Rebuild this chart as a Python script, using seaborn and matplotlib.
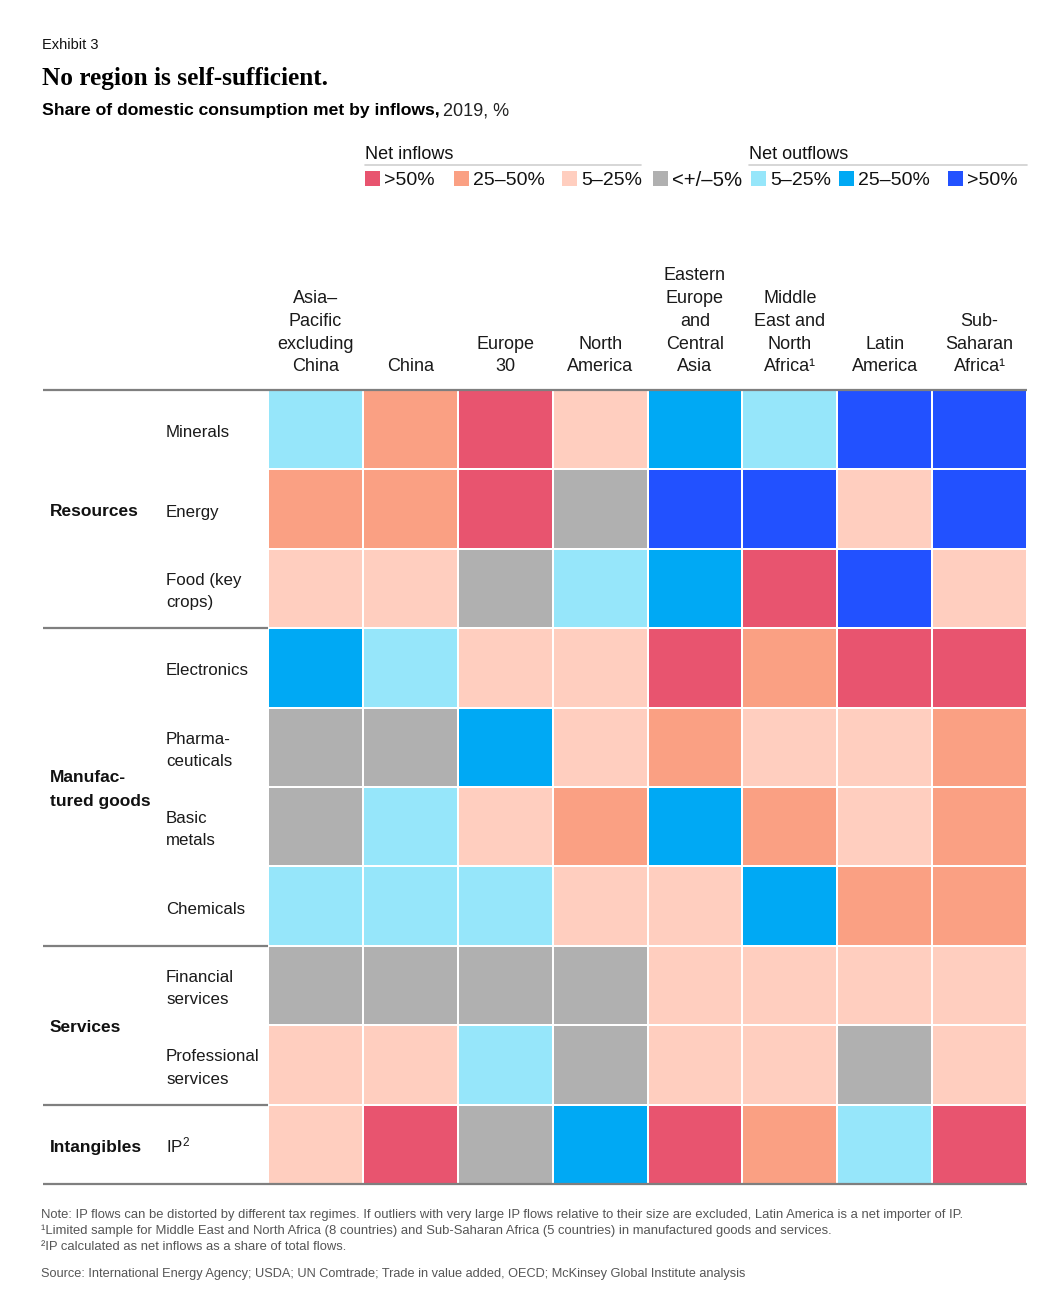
import numpy as np
import pandas as pd
import matplotlib
matplotlib.use("Agg")
import matplotlib.pyplot as plt
from matplotlib.colors import ListedColormap, BoundaryNorm
from matplotlib.patches import Rectangle
from matplotlib.lines import Line2D
from matplotlib.transforms import ScaledTranslation
import seaborn as sns

W, H = 1057, 1312
regions = ["Asia–\nPacific\nexcluding\nChina", "China", "Europe\n30", "North\nAmerica",
           "Eastern\nEurope\nand\nCentral\nAsia", "Middle\nEast and\nNorth\nAfrica¹", "Latin\nAmerica",
           "Sub-\nSaharan\nAfrica¹"]
sectors = ["Minerals", "Energy", "Food (key\ncrops)", "Electronics", "Pharma-\nceuticals", "Basic\nmetals",
           "Chemicals", "Financial\nservices", "Professional\nservices", "IP$\\mathregular{^2}$"]
groups = ["Resources", "Manufac-\ntured goods", "Services", "Intangibles"]
group_sizes = [3, 4, 2, 1]

# positive = net inflow band, negative = net outflow band
minerals = [-1, 2, 3, 1, -2, -1, -3, -3]
energy = [2, 2, 3, 0, -3, -3, 1, -3]
food = [1, 1, 0, -1, -2, 3, -3, 1]
electronics = [-2, -1, 1, 1, 3, 2, 3, 3]
pharma = [0, 0, -2, 1, 2, 1, 1, 2]
basic_metals = [0, -1, 1, 2, -2, 2, 1, 2]
chemicals = [-1, -1, -1, 1, 1, -2, 2, 2]
financial = [0, 0, 0, 0, 1, 1, 1, 1]
professional = [1, 1, -1, 0, 1, 1, 0, 1]
ip = [1, 3, 0, -2, 3, 2, -1, 3]

band_values = [-3, -2, -1, 0, 1, 2, 3]
band_colors = ["#2251FF", "#00A9F4", "#96E6FA", "#B0B0B0", "#FFCEBF", "#FAA083", "#E8546F"]
legend_labels = [">50%", "25–50%", "5–25%", "<+/–5%", "5–25%", "25–50%", ">50%"]
legend_bands = [3, 2, 1, 0, -1, -2, -3]

SANS = "Liberation Sans"
sns.set_theme(style="white")
plt.rcParams["font.family"] = [SANS, "DejaVu Sans"]

fig = plt.figure(figsize=(W / 100, H / 100), dpi=100, facecolor="white")


def fx(x):
    return x / W


def fy(y):
    return 1 - y / H


def ftext(x, y, s, size=12.2, color="#111111", **kw):
    kw.setdefault("va", "center")
    return fig.text(fx(x), fy(y), s, fontsize=size, color=color, **kw)


GX0, GX1, GY0, GY1 = 268, 1027, 390, 1184
ax = fig.add_axes([fx(GX0), fy(GY1), (GX1 - GX0) / W, (GY1 - GY0) / H])
matrix = pd.DataFrame([minerals, energy, food, electronics, pharma, basic_metals, chemicals,
                       financial, professional, ip], index=sectors, columns=regions)
cmap = ListedColormap(band_colors)
norm = BoundaryNorm(np.arange(-3.5, 4.5), cmap.N)
sns.heatmap(matrix, ax=ax, cmap=cmap, norm=norm, cbar=False, linewidths=1.4, linecolor="white",
            xticklabels=True, yticklabels=True)

ax.xaxis.tick_top()
ax.tick_params(axis="x", length=0, pad=10.5, labelsize=13, labelcolor="#1a1a1a")
ax.tick_params(axis="y", length=0, pad=73.4, labelsize=12.2, labelcolor="#1a1a1a")
plt.setp(ax.get_xticklabels(), rotation=0, ha="center", va="bottom", linespacing=1.45)
plt.setp(ax.get_yticklabels(), rotation=0, ha="left", va="center", linespacing=1.62)
for lab in ax.get_yticklabels():
    drop = 1 if lab.get_text().startswith("IP") else 3
    lab.set_transform(lab.get_transform() + ScaledTranslation(0, -drop / 100, fig.dpi_scale_trans))
ax.set_xlabel("")
ax.set_ylabel("")

# rules between groups, drawn in data coordinates of the heatmap
cell_w = (GX1 - GX0) / len(regions)
left = (43 - GX0) / cell_w
edges = np.concatenate([[0], np.cumsum(group_sizes)])
for e in edges:
    right = len(regions) if e in (0, edges[-1]) else 0
    ax.add_line(Line2D([left, right], [e, e], color="#7f7f7f", lw=1.6, clip_on=False, zorder=5,
                       solid_capstyle="butt"))
for g, a, b in zip(groups, edges[:-1], edges[1:]):
    ax.text(left + 7 / cell_w, (a + b) / 2 + 0.035, g, fontweight="bold", fontsize=12.5, color="#111111",
            ha="left", va="center", linespacing=1.72)

# header
ftext(41.5, 45, "Exhibit 3", size=10.5)
ftext(41.5, 78, "No region is self-sufficient.", size=18.2, family="Liberation Serif",
      fontweight="bold", color="black")
ftext(41.5, 111, "Share of domestic consumption met by inflows,", size=12.6, fontweight="bold", color="black")
ftext(443, 111.5, "2019, %", size=13, color="#222222")

# legend
ftext(365, 154.5, "Net inflows", size=13)
ftext(749, 154.5, "Net outflows", size=13)
fig.add_artist(Line2D([fx(365), fx(641)], [fy(165), fy(165)], color="#d0d0d0", lw=1.2))
fig.add_artist(Line2D([fx(749), fx(1027)], [fy(165), fy(165)], color="#d0d0d0", lw=1.2))
swatch_x = [365, 454, 562, 653, 751, 839, 948]
label_sizes = [14, 14, 14, 14.6, 14, 14, 14]
for x, lab, band, sz in zip(swatch_x, legend_labels, legend_bands, label_sizes):
    fig.add_artist(Rectangle((fx(x), fy(186)), 15 / W, 15 / H, transform=fig.transFigure,
                             facecolor=band_colors[band_values.index(band)], edgecolor="none"))
    ftext(x + 19, 180.5, lab, size=sz)

# notes
note_c = "#555555"
ftext(41, 1215, "Note: IP flows can be distorted by different tax regimes. If outliers with very large IP flows "
      "relative to their size are excluded, Latin America is a net importer of IP.", size=9.38, color=note_c)
ftext(41, 1231, "¹Limited sample for Middle East and North Africa (8 countries) and Sub-Saharan Africa (5 countries) "
      "in manufactured goods and services.", size=9.35, color=note_c)
ftext(41, 1247.5, "²IP calculated as net inflows as a share of total flows.", size=9.4, color=note_c)
ftext(41, 1273.5, "Source: International Energy Agency; USDA; UN Comtrade; Trade in value added, OECD; "
      "McKinsey Global Institute analysis", size=9.17, color=note_c)

fig.savefig("out.png", dpi=100, facecolor="white")
